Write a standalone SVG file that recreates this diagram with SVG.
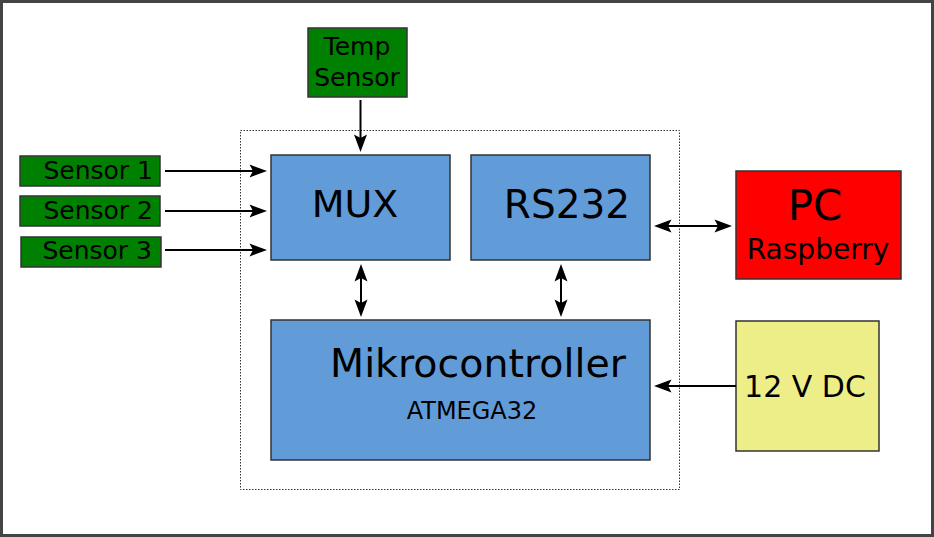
<svg xmlns="http://www.w3.org/2000/svg" xmlns:xlink="http://www.w3.org/1999/xlink" width="934" height="537" viewBox="0 0 934 537">
<defs>
<style>
text{font-family:"DejaVu Sans","Verdana",sans-serif;fill:#000}
.box{stroke:#333;stroke-width:1.5}
.green{fill:#008000}
.blue{fill:#619cd9}
.red{fill:#ff0000}
.yellow{fill:#eeee88}
.conn{stroke:#000;stroke-width:2;fill:none}
.head{fill:#000}
</style>
<path id="ah" d="M0,0 L-17.5,-6.5 L-14,0 L-17.5,6.5 z"/>
</defs>
<rect x="1.5" y="1.5" width="931" height="534" fill="#fff" stroke="#444" stroke-width="3"/>
<rect id="board" x="240.5" y="130.5" width="439" height="359" fill="none" stroke="#333" stroke-width="1" stroke-dasharray="1.5,1.5"/>
<g id="temp-sensor"><rect class="box green" x="308" y="28" width="99" height="69"/><text x="357" y="55" font-size="25" text-anchor="middle">Temp</text><text x="357" y="86" font-size="25" text-anchor="middle">Sensor</text></g>
<g id="sensor1"><rect class="box green" x="20" y="156" width="140" height="30"/><text x="153" y="179" font-size="25" text-anchor="end">Sensor 1</text></g>
<g id="sensor2"><rect class="box green" x="20" y="196" width="140" height="30"/><text x="153" y="219" font-size="25" text-anchor="end">Sensor 2</text></g>
<g id="sensor3"><rect class="box green" x="21" y="237" width="140" height="30"/><text x="152" y="259" font-size="25" text-anchor="end">Sensor 3</text></g>
<g id="mux"><rect class="box blue" x="271" y="155" width="179" height="105"/><text x="355" y="217" font-size="38" text-anchor="middle">MUX</text></g>
<g id="rs232"><rect class="box blue" x="471" y="155" width="179" height="105"/><text x="567" y="218" font-size="39" text-anchor="middle">RS232</text></g>
<g id="mikrocontroller"><rect class="box blue" x="271" y="320" width="379" height="140"/><text x="478" y="377" font-size="39.5" text-anchor="middle">Mikrocontroller</text><text x="472" y="419" font-size="24" text-anchor="middle">ATMEGA32</text></g>
<g id="pc"><rect class="box red" x="736" y="171" width="165" height="108"/><text x="815" y="220" font-size="42" text-anchor="middle">PC</text><text x="818" y="259" font-size="28" text-anchor="middle">Raspberry</text></g>
<g id="power"><rect class="box yellow" x="736" y="321" width="143" height="130"/><text x="805" y="397" font-size="30" text-anchor="middle">12 V DC</text></g>
<g id="connectors">
<line class="conn" x1="360.5" y1="100" x2="360.5" y2="142"/>
<use class="head" href="#ah" xlink:href="#ah" transform="translate(360.5,152) rotate(90)"/>
<line class="conn" x1="165" y1="171" x2="257" y2="171"/>
<use class="head" href="#ah" xlink:href="#ah" transform="translate(267,171)"/>
<line class="conn" x1="165" y1="211" x2="257" y2="211"/>
<use class="head" href="#ah" xlink:href="#ah" transform="translate(267,211)"/>
<line class="conn" x1="165" y1="250" x2="257" y2="250"/>
<use class="head" href="#ah" xlink:href="#ah" transform="translate(267,250)"/>
<line class="conn" x1="361" y1="274" x2="361" y2="307"/>
<use class="head" href="#ah" xlink:href="#ah" transform="translate(361,264) rotate(-90)"/>
<use class="head" href="#ah" xlink:href="#ah" transform="translate(361,317) rotate(90)"/>
<line class="conn" x1="561" y1="274" x2="561" y2="307"/>
<use class="head" href="#ah" xlink:href="#ah" transform="translate(561,264) rotate(-90)"/>
<use class="head" href="#ah" xlink:href="#ah" transform="translate(561,317) rotate(90)"/>
<line class="conn" x1="664" y1="226" x2="722" y2="226"/>
<use class="head" href="#ah" xlink:href="#ah" transform="translate(654,226) rotate(180)"/>
<use class="head" href="#ah" xlink:href="#ah" transform="translate(732,226)"/>
<line class="conn" x1="736" y1="386" x2="664" y2="386"/>
<use class="head" href="#ah" xlink:href="#ah" transform="translate(654,386) rotate(180)"/>
</g>
</svg>
